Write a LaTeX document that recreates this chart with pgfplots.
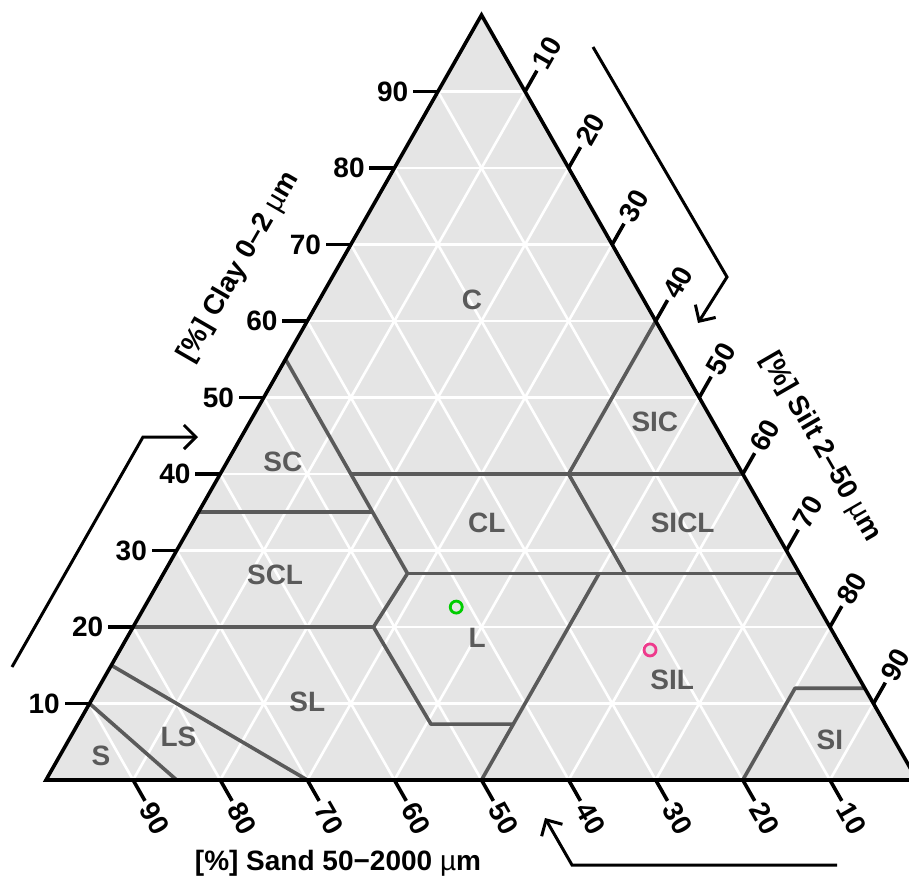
\documentclass[border=0pt]{standalone}
\usepackage{fontspec}
\setmainfont{Liberation Sans}
\usepackage{pgfplots}
\pgfplotsset{compat=1.18}
\usetikzlibrary{arrows.meta}
\definecolor{bg}{RGB}{229,229,229}
\definecolor{bnd}{RGB}{90,90,90}
\definecolor{ptgreen}{RGB}{0,205,0}
\definecolor{ptpink}{RGB}{238,58,140}
\newcommand{\lbl}{\fontsize{28}{32}\selectfont\bfseries}
\tikzset{
  gridl/.style={white, line width=2.6pt, mark=none},
  bndl/.style={bnd, line width=3.6pt, mark=none, line join=round},
  tickl/.style={black, line width=3.6pt},
  arr/.style={black, line width=3pt, line join=miter, -{Straight Barb[length=12pt,width=24pt,line width=3pt]}},
  cls/.style={text=bnd, font=\lbl},
}
\begin{document}
\begin{tikzpicture}
\begin{axis}[
  at={(46pt,-780pt)}, anchor=south west,
  x=8.71pt, y=7.65pt,
  xmin=0, xmax=100, ymin=0, ymax=100,
  hide axis, clip=false,
]
% background
\fill[bg] (axis cs:0,0) -- (axis cs:100,0) -- (axis cs:50,100) -- cycle;
% grid: constant clay
\addplot[gridl] coordinates {(5,10) (95,10)};
\addplot[gridl] coordinates {(10,20) (90,20)};
\addplot[gridl] coordinates {(15,30) (85,30)};
\addplot[gridl] coordinates {(20,40) (80,40)};
\addplot[gridl] coordinates {(25,50) (75,50)};
\addplot[gridl] coordinates {(30,60) (70,60)};
\addplot[gridl] coordinates {(35,70) (65,70)};
\addplot[gridl] coordinates {(40,80) (60,80)};
\addplot[gridl] coordinates {(45,90) (55,90)};
% grid: constant silt
\addplot[gridl] coordinates {(10,0) (55,90)};
\addplot[gridl] coordinates {(20,0) (60,80)};
\addplot[gridl] coordinates {(30,0) (65,70)};
\addplot[gridl] coordinates {(40,0) (70,60)};
\addplot[gridl] coordinates {(50,0) (75,50)};
\addplot[gridl] coordinates {(60,0) (80,40)};
\addplot[gridl] coordinates {(70,0) (85,30)};
\addplot[gridl] coordinates {(80,0) (90,20)};
\addplot[gridl] coordinates {(90,0) (95,10)};
% grid: constant sand
\addplot[gridl] coordinates {(10,0) (5,10)};
\addplot[gridl] coordinates {(20,0) (10,20)};
\addplot[gridl] coordinates {(30,0) (15,30)};
\addplot[gridl] coordinates {(40,0) (20,40)};
\addplot[gridl] coordinates {(50,0) (25,50)};
\addplot[gridl] coordinates {(60,0) (30,60)};
\addplot[gridl] coordinates {(70,0) (35,70)};
\addplot[gridl] coordinates {(80,0) (40,80)};
\addplot[gridl] coordinates {(90,0) (45,90)};
% class boundaries (USDA)
\addplot[bndl] coordinates {(27.5,55) (37.5,35) (41.5,27) (37.6,20) (44.2,7.3) (53.6,7.3)};
\addplot[bndl] coordinates {(17.5,35) (37.5,35)};
\addplot[bndl] coordinates {(10,20) (37.6,20)};
\addplot[bndl] coordinates {(35,40) (80,40)};
\addplot[bndl] coordinates {(70,60) (60,40) (66.5,27)};
\addplot[bndl] coordinates {(41.5,27) (86.5,27)};
\addplot[bndl] coordinates {(50,0) (63.5,27)};
\addplot[bndl] coordinates {(80,0) (86,12) (94,12)};
\addplot[bndl] coordinates {(7.5,15) (30,0)};
\addplot[bndl] coordinates {(5,10) (15,0)};
% outline
\draw[black, line width=3.6pt, line join=miter] (axis cs:0,0) -- (axis cs:100,0) -- (axis cs:50,100) -- cycle;
% clay ticks
\draw[tickl] (axis cs:5,10) -- ++(-25pt,0) node[left, inner sep=3pt, font=\lbl]{10};
\draw[tickl] (axis cs:10,20) -- ++(-25pt,0) node[left, inner sep=3pt, font=\lbl]{20};
\draw[tickl] (axis cs:15,30) -- ++(-25pt,0) node[left, inner sep=3pt, font=\lbl]{30};
\draw[tickl] (axis cs:20,40) -- ++(-25pt,0) node[left, inner sep=3pt, font=\lbl]{40};
\draw[tickl] (axis cs:25,50) -- ++(-25pt,0) node[left, inner sep=3pt, font=\lbl]{50};
\draw[tickl] (axis cs:30,60) -- ++(-25pt,0) node[left, inner sep=3pt, font=\lbl]{60};
\draw[tickl] (axis cs:35,70) -- ++(-25pt,0) node[left, inner sep=3pt, font=\lbl]{70};
\draw[tickl] (axis cs:40,80) -- ++(-25pt,0) node[left, inner sep=3pt, font=\lbl]{80};
\draw[tickl] (axis cs:45,90) -- ++(-25pt,0) node[left, inner sep=3pt, font=\lbl]{90};
% sand ticks
\draw[tickl] (axis cs:10,0) -- ++(-60.35:24pt) node[anchor=west, rotate=-60.35, inner sep=3pt, font=\lbl]{90};
\draw[tickl] (axis cs:20,0) -- ++(-60.35:24pt) node[anchor=west, rotate=-60.35, inner sep=3pt, font=\lbl]{80};
\draw[tickl] (axis cs:30,0) -- ++(-60.35:24pt) node[anchor=west, rotate=-60.35, inner sep=3pt, font=\lbl]{70};
\draw[tickl] (axis cs:40,0) -- ++(-60.35:24pt) node[anchor=west, rotate=-60.35, inner sep=3pt, font=\lbl]{60};
\draw[tickl] (axis cs:50,0) -- ++(-60.35:24pt) node[anchor=west, rotate=-60.35, inner sep=3pt, font=\lbl]{50};
\draw[tickl] (axis cs:60,0) -- ++(-60.35:24pt) node[anchor=west, rotate=-60.35, inner sep=3pt, font=\lbl]{40};
\draw[tickl] (axis cs:70,0) -- ++(-60.35:24pt) node[anchor=west, rotate=-60.35, inner sep=3pt, font=\lbl]{30};
\draw[tickl] (axis cs:80,0) -- ++(-60.35:24pt) node[anchor=west, rotate=-60.35, inner sep=3pt, font=\lbl]{20};
\draw[tickl] (axis cs:90,0) -- ++(-60.35:24pt) node[anchor=west, rotate=-60.35, inner sep=3pt, font=\lbl]{10};
% silt ticks
\draw[tickl] (axis cs:55,90) -- ++(60.35:24pt) node[anchor=west, rotate=60.35, inner sep=3pt, font=\lbl]{10};
\draw[tickl] (axis cs:60,80) -- ++(60.35:24pt) node[anchor=west, rotate=60.35, inner sep=3pt, font=\lbl]{20};
\draw[tickl] (axis cs:65,70) -- ++(60.35:24pt) node[anchor=west, rotate=60.35, inner sep=3pt, font=\lbl]{30};
\draw[tickl] (axis cs:70,60) -- ++(60.35:24pt) node[anchor=west, rotate=60.35, inner sep=3pt, font=\lbl]{40};
\draw[tickl] (axis cs:75,50) -- ++(60.35:24pt) node[anchor=west, rotate=60.35, inner sep=3pt, font=\lbl]{50};
\draw[tickl] (axis cs:80,40) -- ++(60.35:24pt) node[anchor=west, rotate=60.35, inner sep=3pt, font=\lbl]{60};
\draw[tickl] (axis cs:85,30) -- ++(60.35:24pt) node[anchor=west, rotate=60.35, inner sep=3pt, font=\lbl]{70};
\draw[tickl] (axis cs:90,20) -- ++(60.35:24pt) node[anchor=west, rotate=60.35, inner sep=3pt, font=\lbl]{80};
\draw[tickl] (axis cs:95,10) -- ++(60.35:24pt) node[anchor=west, rotate=60.35, inner sep=3pt, font=\lbl]{90};
% class labels
\node[cls] at (axis cs:48.9,62.7) {C};
\node[cls] at (axis cs:69.9,46.8) {SIC};
\node[cls] at (axis cs:27.2,41.6) {SC};
\node[cls] at (axis cs:50.6,33.6) {CL};
\node[cls] at (axis cs:73.1,33.6) {SICL};
\node[cls] at (axis cs:26.3,26.8) {SCL};
\node[cls] at (axis cs:49.5,18.6) {L};
\node[cls] at (axis cs:71.9,13.1) {SIL};
\node[cls] at (axis cs:30.0,10.2) {SL};
\node[cls] at (axis cs:15.2,5.6) {LS};
\node[cls] at (axis cs:6.3,3.1) {S};
\node[cls] at (axis cs:90.0,5.2) {SI};
% samples
\addplot[only marks, mark=o, mark size=6pt, ptgreen, mark options={line width=2.8pt}] coordinates {(47.1,22.6)};
\addplot[only marks, mark=o, mark size=6pt, ptpink, mark options={line width=2.8pt}] coordinates {(69.35,17.0)};
\end{axis}
% axis titles
\node[rotate=60, font=\lbl] at (239pt,-267pt) {[\%] Clay 0–2 {\mdseries µ}m};
\node[rotate=-60, font=\lbl] at (821pt,-447pt) {[\%] Silt 2–50 {\mdseries µ}m};
\node[font=\lbl] at (338pt,-863pt) {[\%] Sand 50−2000 {\mdseries µ}m};
% direction arrows
\draw[arr] (593pt,-47pt) -- (727pt,-277pt) -- (698pt,-323pt);
\draw[arr] (12pt,-667pt) -- (143pt,-437pt) -- (198pt,-437pt);
\draw[arr] (837pt,-865pt) -- (572pt,-865pt) -- (545pt,-818pt);
\pgfresetboundingbox
\path[use as bounding box] (0pt,0pt) rectangle (909pt,-877pt);
\end{tikzpicture}
\end{document}
